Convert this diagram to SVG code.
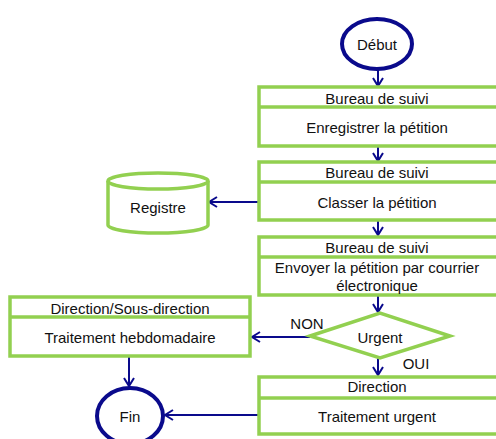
<svg xmlns="http://www.w3.org/2000/svg" width="496" height="439" viewBox="0 0 496 439">
<defs>
<marker id="arr" markerWidth="12" markerHeight="12" refX="10" refY="6" orient="auto" markerUnits="userSpaceOnUse">
<path d="M2,1 L10,6 L2,11" fill="none" stroke="#0A0A8C" stroke-width="2"/>
</marker>
</defs>
<style>
.box{fill:#fff;stroke:#92D050;stroke-width:3.5}
.term{fill:#fff;stroke:#0A0A8C;stroke-width:4}
.t{font-family:"Liberation Sans",Arial,sans-serif;font-size:15px;fill:#111;text-anchor:middle;dominant-baseline:central}
.c{fill:none;stroke:#0A0A8C;stroke-width:2;marker-end:url(#arr)}
</style>
<rect width="496" height="439" fill="#fff"/>
<g id="connectors">
<line class="c" x1="378" y1="70" x2="378" y2="86"/>
<line class="c" x1="378" y1="147" x2="378" y2="161"/>
<line class="c" x1="258" y1="202" x2="209" y2="202"/>
<line class="c" x1="378" y1="221" x2="378" y2="235"/>
<line class="c" x1="378" y1="296" x2="378" y2="312"/>
<line class="c" x1="310" y1="337" x2="252" y2="337"/>
<line class="c" x1="378" y1="358" x2="378" y2="375"/>
<line class="c" x1="129" y1="357" x2="129" y2="386"/>
<line class="c" x1="258" y1="415" x2="165" y2="415"/>
<text class="t" x="307" y="323">NON</text>
<text class="t" x="416" y="363">OUI</text>
</g>
<g id="debut">
<ellipse class="term" cx="377" cy="44" rx="35" ry="25"/>
<text class="t" x="377" y="44">Début</text>
</g>
<g id="enregistrer">
<rect class="box" x="259" y="87" width="245" height="59"/>
<line class="box" x1="259" y1="107" x2="504" y2="107"/>
<text class="t" x="377" y="98">Bureau de suivi</text>
<text class="t" x="377" y="127">Enregistrer la pétition</text>
</g>
<g id="classer">
<rect class="box" x="259" y="162" width="245" height="58"/>
<line class="box" x1="259" y1="182" x2="504" y2="182"/>
<text class="t" x="377" y="172">Bureau de suivi</text>
<text class="t" x="377" y="202">Classer la pétition</text>
</g>
<g id="registre">
<path class="box" d="M108,181 A50,8 0 0 1 208,181 L208,225 A50,8 0 0 1 108,225 Z"/>
<path class="box" d="M108,181 A50,8 0 0 0 208,181" fill="none"/>
<text class="t" x="158" y="207">Registre</text>
</g>
<g id="envoyer">
<rect class="box" x="259" y="237" width="245" height="58"/>
<line class="box" x1="259" y1="257" x2="504" y2="257"/>
<text class="t" x="377" y="247">Bureau de suivi</text>
<text class="t" x="377" y="267">Envoyer la pétition par courrier</text>
<text class="t" x="377" y="285">électronique</text>
</g>
<g id="urgent">
<polygon class="box" points="310,336 380,313 450,336 380,358"/>
<text class="t" x="380" y="337">Urgent</text>
</g>
<g id="hebdo">
<rect class="box" x="10" y="297" width="240" height="59"/>
<line class="box" x1="10" y1="317" x2="250" y2="317"/>
<text class="t" x="130" y="308">Direction/Sous-direction</text>
<text class="t" x="130" y="337">Traitement hebdomadaire</text>
</g>
<g id="direction">
<rect class="box" x="259" y="377" width="245" height="57"/>
<line class="box" x1="259" y1="398" x2="504" y2="398"/>
<text class="t" x="377" y="386">Direction</text>
<text class="t" x="377" y="416">Traitement urgent</text>
</g>
<g id="fin">
<ellipse class="term" cx="130" cy="416" rx="33" ry="28"/>
<text class="t" x="130" y="416">Fin</text>
</g>
</svg>
